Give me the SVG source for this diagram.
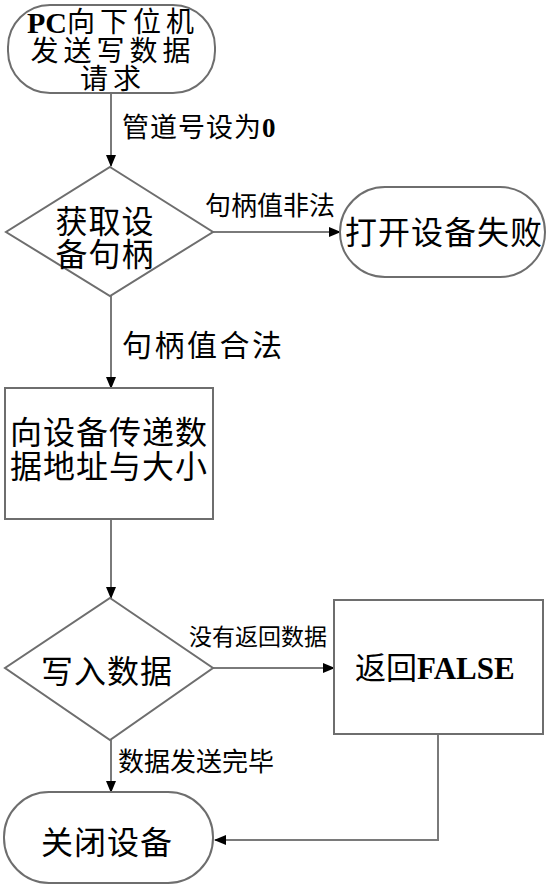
<svg xmlns="http://www.w3.org/2000/svg" width="548" height="886" viewBox="0 0 548 886">
<style>
.shape{fill:#fff;stroke:#6e6e6e;stroke-width:2}
.conn{fill:none;stroke:#7a7a7a;stroke-width:2}
text{font-family:"Liberation Serif","Noto Sans CJK SC",serif;fill:#000;dominant-baseline:central}
.big{font-size:32px;text-anchor:middle;letter-spacing:1px}
.st{font-size:28px;text-anchor:middle;letter-spacing:5px}
.pc{font-weight:bold}
.lbl{font-size:26px}
</style>
<defs>
<marker id="arr" markerWidth="12" markerHeight="10" refX="11" refY="5" orient="auto" markerUnits="userSpaceOnUse">
<path d="M0,0 L12,5 L0,10 Z" fill="#000"/>
</marker>
</defs>
<rect width="548" height="886" fill="#fff"/>
<g id="connectors">
<line class="conn" x1="111" y1="93" x2="111" y2="166" marker-end="url(#arr)"/>
<line class="conn" x1="213" y1="232" x2="340" y2="232" marker-end="url(#arr)"/>
<line class="conn" x1="111" y1="296" x2="111" y2="388" marker-end="url(#arr)"/>
<line class="conn" x1="111" y1="519" x2="111" y2="598" marker-end="url(#arr)"/>
<line class="conn" x1="213" y1="668" x2="334" y2="668" marker-end="url(#arr)"/>
<line class="conn" x1="111" y1="740" x2="111" y2="792" marker-end="url(#arr)"/>
<polyline class="conn" points="438,734 438,840 215,840" marker-end="url(#arr)"/>
<text class="lbl" x="122" y="128" style="font-size:27px;letter-spacing:1px">管道号设为<tspan class="pc">0</tspan></text>
<text class="lbl" x="205" y="206">句柄值非法</text>
<text class="lbl" x="122" y="345" style="font-size:30px;letter-spacing:2.5px">句柄值合法</text>
<text class="lbl" x="189" y="637" style="font-size:23px">没有返回数据</text>
<text class="lbl" x="118" y="762">数据发送完毕</text>
</g>
<g id="start">
<rect class="shape" x="8" y="5" width="207" height="88" rx="42" ry="42"/>
<text class="st" x="113" y="22"><tspan class="pc" style="font-size:30px;letter-spacing:0">PC</tspan>向下位机</text>
<text class="st" x="113" y="51">发送写数据</text>
<text class="st" x="113" y="79">请求</text>
</g>
<g id="get-handle">
<polygon class="shape" points="110,167 213,232 110,296 6,232"/>
<text class="big" x="105" y="222">获取设</text>
<text class="big" x="105" y="255">备句柄</text>
</g>
<g id="open-fail">
<rect class="shape" x="340" y="187" width="205" height="90" rx="45" ry="45"/>
<text class="big" x="444" y="233">打开设备失败</text>
</g>
<g id="send-addr">
<rect class="shape" x="5" y="388" width="208" height="131"/>
<text class="big" x="109" y="433">向设备传递数</text>
<text class="big" x="109" y="467">据地址与大小</text>
</g>
<g id="write-data">
<polygon class="shape" points="110,598 213,668 110,740 5,668"/>
<text class="big" x="107" y="672">写入数据</text>
</g>
<g id="return-false">
<rect class="shape" x="334" y="600" width="209" height="134"/>
<text x="355" y="668" style="font-size:31px">返回<tspan class="pc">FALSE</tspan></text>
</g>
<g id="close">
<rect class="shape" x="4" y="792" width="209" height="91" rx="45" ry="45"/>
<text class="big" x="107" y="843">关闭设备</text>
</g>
</svg>
